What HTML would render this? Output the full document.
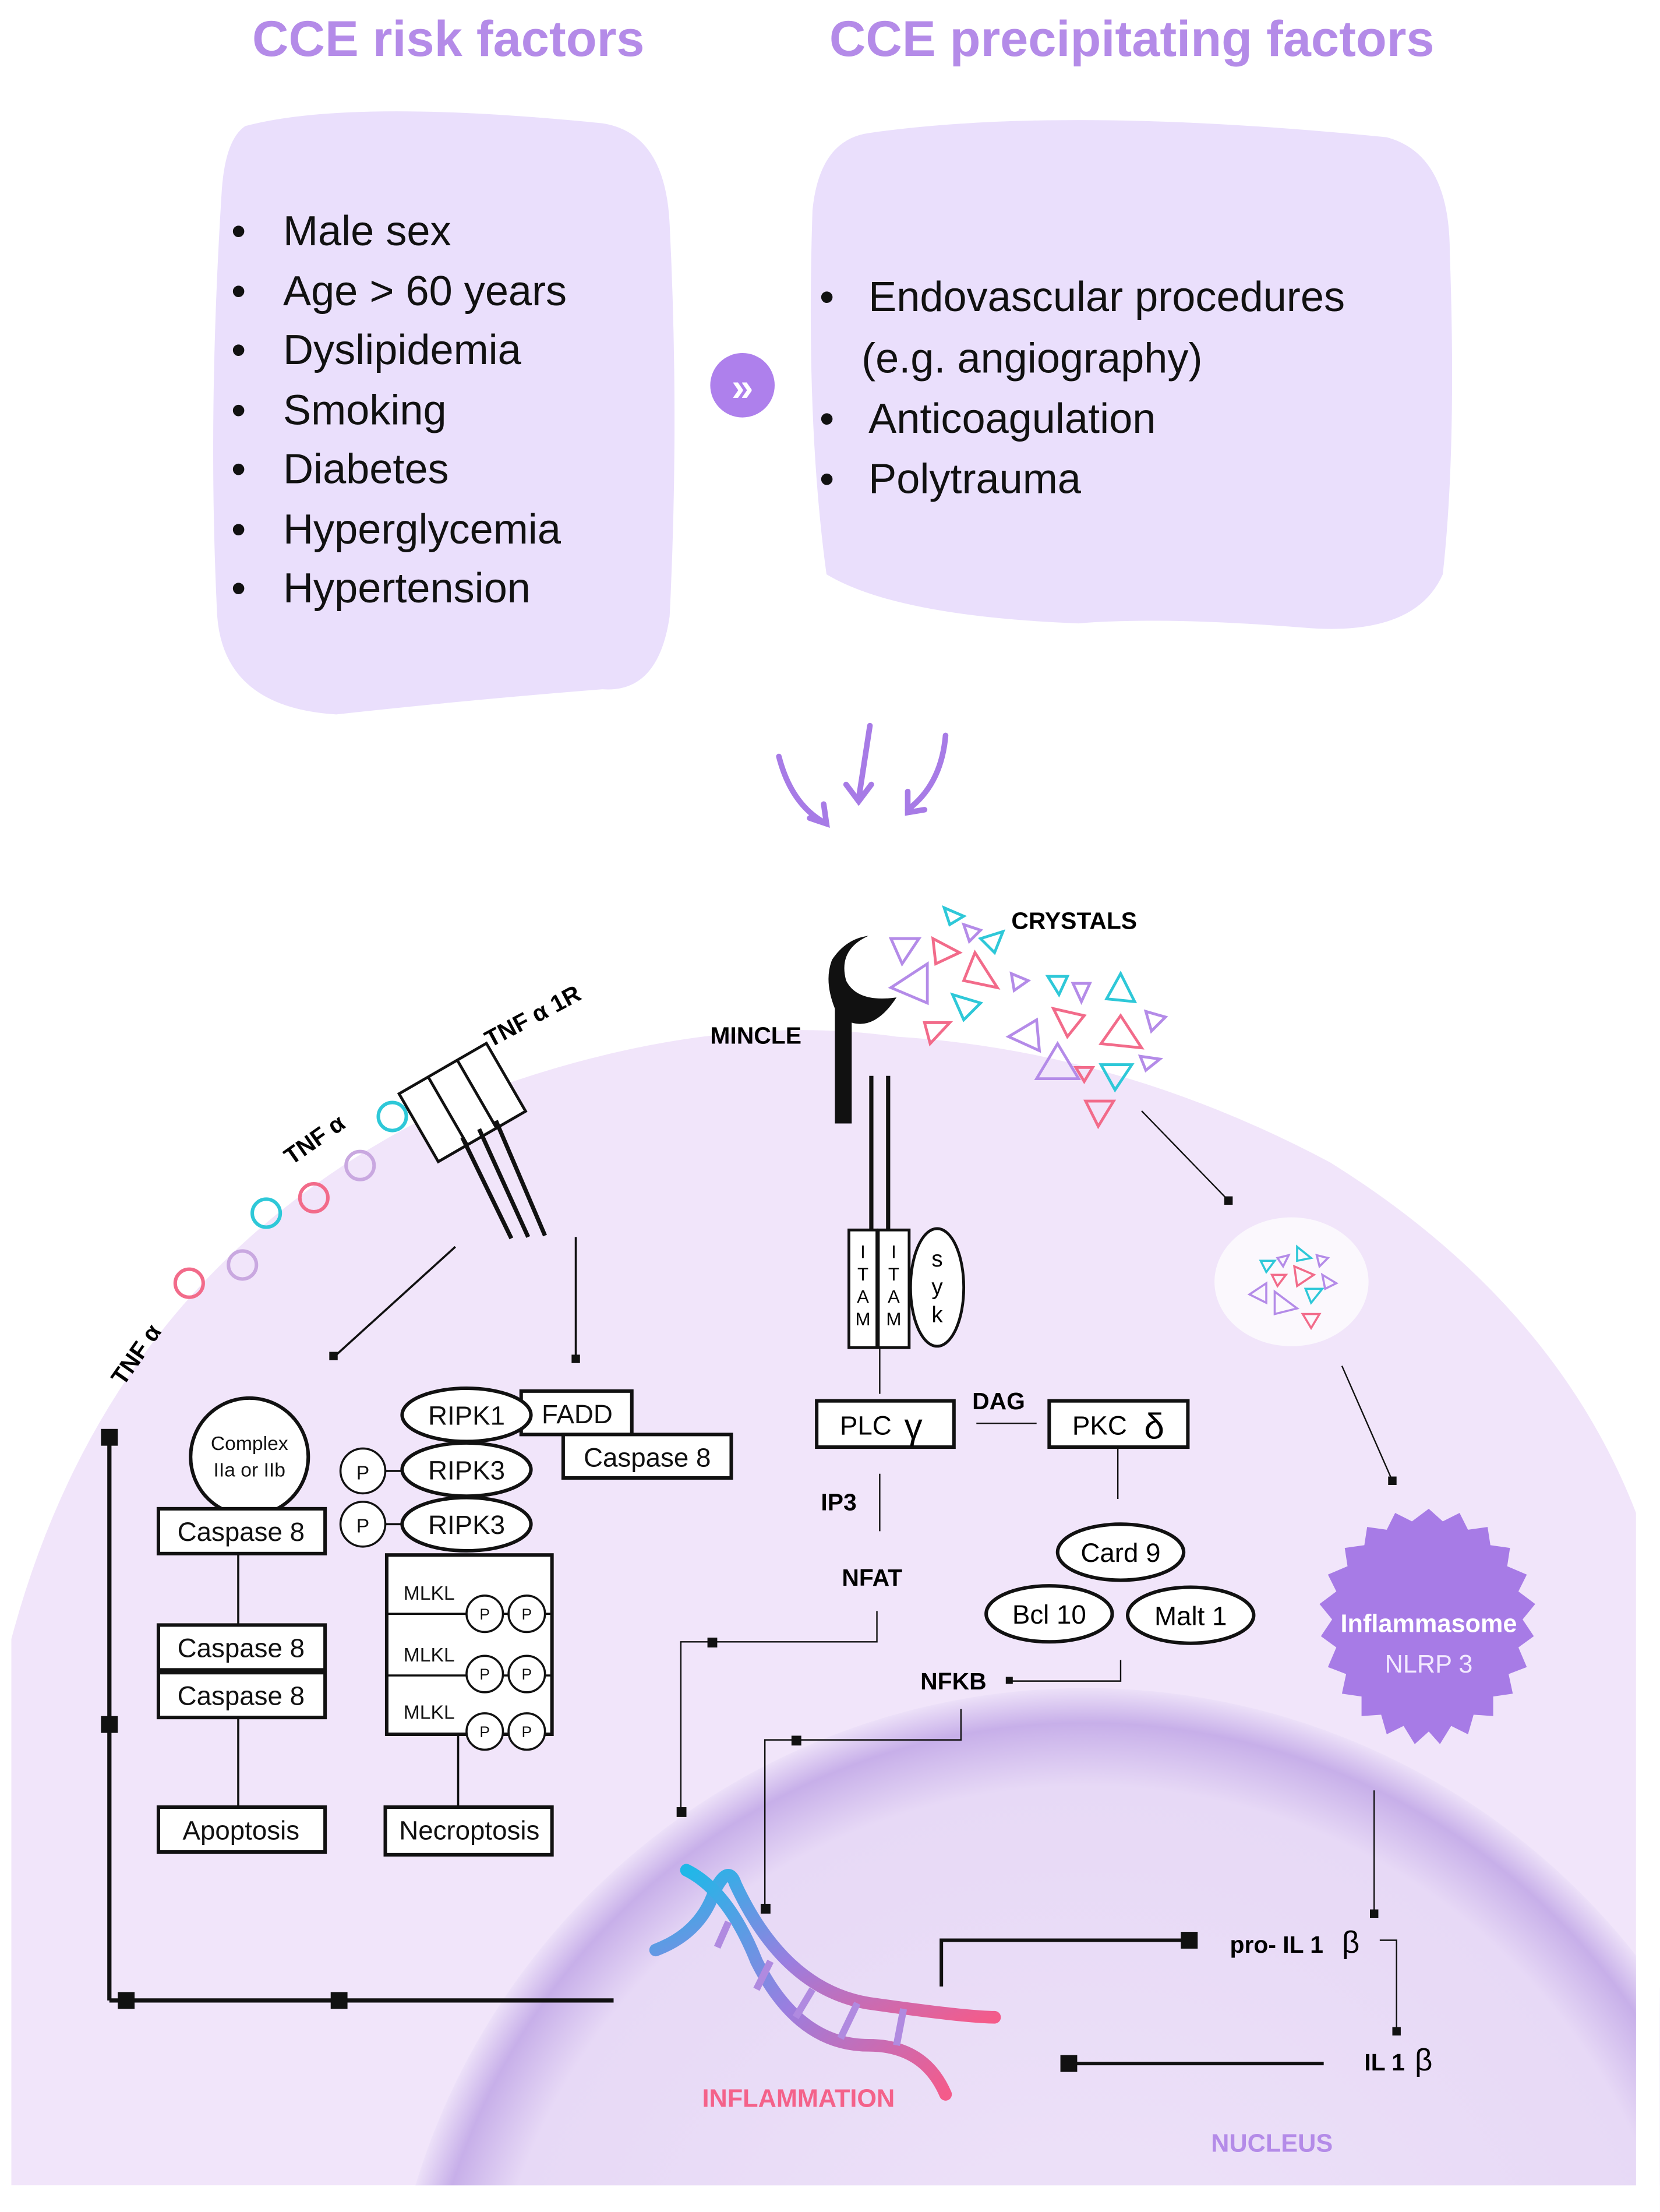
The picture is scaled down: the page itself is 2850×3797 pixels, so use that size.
<!DOCTYPE html>
<html><head><meta charset="utf-8"><style>
html,body{margin:0;padding:0;background:#fff;overflow:hidden;width:2850px;height:3797px;}
svg{display:block;}
text{font-family:"Liberation Sans",sans-serif;}
</style></head><body>
<svg width="2850" height="3797" viewBox="0 0 1185 1579" xmlns="http://www.w3.org/2000/svg">
<defs>
<radialGradient id="nuc" cx="0.5" cy="0.5" r="0.5">
<stop offset="0" stop-color="#efe4f9"/><stop offset="0.86" stop-color="#e7d9f6"/><stop offset="0.95" stop-color="#c7afe9"/><stop offset="1" stop-color="#ece0f8"/>
</radialGradient>
<linearGradient id="dna" x1="0" y1="0" x2="1" y2="1">
<stop offset="0" stop-color="#1fb8e8"/><stop offset="0.5" stop-color="#9a7ee0"/><stop offset="1" stop-color="#f45b8a"/>
</linearGradient>
</defs>
<text x="320" y="40" font-size="36" font-weight="bold" fill="#b48be8" text-anchor="middle">CCE risk factors</text>
<text x="808" y="40" font-size="36" font-weight="bold" fill="#b48be8" text-anchor="middle">CCE precipitating factors</text>
<path d="M175 90 Q250 70 430 88 Q475 95 478 160 Q485 300 478 440 Q470 495 430 492 Q330 500 240 510 Q160 505 155 440 Q148 300 158 140 Q160 100 175 90Z" fill="#eadffc"/>
<path d="M620 95 Q760 75 990 98 Q1035 110 1035 180 Q1040 320 1030 410 Q1010 455 930 448 Q830 440 770 445 Q640 440 590 410 Q575 300 580 150 Q585 100 620 95Z" fill="#eadffc"/>
<g font-size="30" fill="#111">
<text x="165" y="175">•</text><text x="202" y="175">Male sex</text>
<text x="165" y="218">•</text><text x="202" y="218">Age &gt; 60 years</text>
<text x="165" y="260">•</text><text x="202" y="260">Dyslipidemia</text>
<text x="165" y="303">•</text><text x="202" y="303">Smoking</text>
<text x="165" y="345">•</text><text x="202" y="345">Diabetes</text>
<text x="165" y="388">•</text><text x="202" y="388">Hyperglycemia</text>
<text x="165" y="430">•</text><text x="202" y="430">Hypertension</text>
<text x="585" y="222">•</text><text x="620" y="222">Endovascular procedures</text>
<text x="615" y="266">(e.g. angiography)</text>
<text x="585" y="309">•</text><text x="620" y="309">Anticoagulation</text>
<text x="585" y="352">•</text><text x="620" y="352">Polytrauma</text>
</g>
<circle cx="530" cy="275" r="23" fill="#ae80ec"/>
<text x="530" y="286" font-size="28" font-weight="bold" fill="#fff" text-anchor="middle">»</text>
<g stroke="#a77be6" stroke-width="4" fill="none" stroke-linecap="round">
<path d="M556 540 Q565 575 590 588"/><path d="M578 584 L590 588 L588 574"/>
<path d="M621 518 Q616 550 613 570"/><path d="M604 560 L613 572 L622 560"/>
<path d="M675 525 Q672 560 648 578"/><path d="M648 565 L648 580 L660 578"/>
</g>
<path d="M8 1170 Q80 900 330 785 Q500 720 640 740 Q800 750 950 830 Q1110 930 1168 1080 L1168 1560 L8 1560Z" fill="#f1e5fa"/>
<circle cx="775" cy="1705" r="500" fill="url(#nuc)"/>
<rect x="0" y="1560" width="1185" height="19" fill="#fff"/>
<rect x="1168" y="1000" width="17" height="579" fill="#fff"/>
<text transform="translate(88,990) rotate(-55)" font-size="17" font-weight="bold">TNF α</text>
<text transform="translate(208,832) rotate(-35)" font-size="17" font-weight="bold">TNF α</text>
<text transform="translate(350,748) rotate(-28)" font-size="17" font-weight="bold">TNF α 1R</text>
<g fill="none" stroke-width="2.5">
<circle cx="135" cy="916" r="10" stroke="#f26b8a"/><circle cx="173" cy="903" r="10" stroke="#c9a8e0"/>
<circle cx="190" cy="866" r="10" stroke="#2ec8d8"/><circle cx="224" cy="855" r="10" stroke="#f26b8a"/>
<circle cx="257" cy="832" r="10" stroke="#c9a8e0"/><circle cx="280" cy="797" r="10" stroke="#2ec8d8"/>
</g>
<g transform="translate(330,787) rotate(-30)" stroke="#111" stroke-width="2" fill="#fff">
<rect x="-36" y="-28" width="72" height="56"/><line x1="-12" y1="-28" x2="-12" y2="28"/><line x1="12" y1="-28" x2="12" y2="28"/>
</g>
<g stroke="#111" stroke-width="3"><line x1="330" y1="812" x2="365" y2="884"/><line x1="342" y1="806" x2="377" y2="883"/><line x1="354" y1="800" x2="389" y2="882"/></g>
<g stroke="#111" stroke-width="1.5"><line x1="325" y1="890" x2="239" y2="968"/><line x1="411" y1="883" x2="411" y2="970"/></g>
<rect x="235" y="965" width="6" height="6" fill="#111"/><rect x="408" y="967" width="6" height="6" fill="#111"/>
<g stroke="#111" stroke-width="2.5" fill="#fff">
<circle cx="178" cy="1040" r="42"/>
<rect x="113" y="1077" width="119" height="32"/>
<rect x="113" y="1160" width="119" height="32"/><rect x="113" y="1194" width="119" height="32"/>
<rect x="113" y="1290" width="119" height="32"/>
<rect x="276" y="1110" width="118" height="128"/>
<rect x="275" y="1290" width="119" height="34"/>
<rect x="372" y="993" width="79" height="31"/>
<rect x="402" y="1024" width="120" height="31"/>
<ellipse cx="333" cy="1010" rx="46" ry="19"/>
<ellipse cx="333" cy="1049" rx="46" ry="19"/>
<ellipse cx="333" cy="1088" rx="46" ry="19"/>
</g>
<g stroke="#111" stroke-width="1.5" fill="#fff">
<line x1="276" y1="1152" x2="394" y2="1152"/><line x1="276" y1="1196" x2="394" y2="1196"/>
<line x1="170" y1="1109" x2="170" y2="1160"/><line x1="170" y1="1226" x2="170" y2="1290"/><line x1="327" y1="1238" x2="327" y2="1290"/>
<line x1="275" y1="1050" x2="287" y2="1050"/><line x1="275" y1="1088" x2="287" y2="1088"/>
<circle cx="259" cy="1050" r="16"/><circle cx="259" cy="1088" r="16"/>
<circle cx="346" cy="1152" r="13"/><circle cx="376" cy="1152" r="13"/>
<circle cx="346" cy="1195" r="13"/><circle cx="376" cy="1195" r="13"/>
<circle cx="346" cy="1236" r="13"/><circle cx="376" cy="1236" r="13"/>
</g>
<g font-size="19" text-anchor="middle" fill="#111">
<text x="178" y="1035" font-size="14">Complex</text><text x="178" y="1054" font-size="14">IIa or IIb</text>
<text x="172" y="1100">Caspase 8</text><text x="172" y="1183">Caspase 8</text><text x="172" y="1217">Caspase 8</text>
<text x="172" y="1313">Apoptosis</text><text x="335" y="1313">Necroptosis</text>
<text x="412" y="1016">FADD</text><text x="462" y="1047">Caspase 8</text>
<text x="333" y="1017">RIPK1</text><text x="333" y="1056">RIPK3</text><text x="333" y="1095">RIPK3</text>
<text x="259" y="1056" font-size="14">P</text><text x="259" y="1094" font-size="14">P</text>
<g font-size="14" text-anchor="start"><text x="288" y="1142">MLKL</text><text x="288" y="1186">MLKL</text><text x="288" y="1227">MLKL</text></g>
<g font-size="11"><text x="346" y="1156">P</text><text x="376" y="1156">P</text><text x="346" y="1199">P</text><text x="376" y="1199">P</text><text x="346" y="1240">P</text><text x="376" y="1240">P</text></g>
</g>
<g stroke="#111" stroke-width="3"><line x1="78" y1="1025" x2="78" y2="1428"/><line x1="78" y1="1428" x2="438" y2="1428"/></g>
<g fill="#111"><rect x="72" y="1020" width="12" height="12"/><rect x="72" y="1225" width="12" height="12"/><rect x="84" y="1422" width="12" height="12"/><rect x="236" y="1422" width="12" height="12"/></g>
<text x="507" y="745" font-size="17" font-weight="bold">MINCLE</text>
<path d="M596 802 L596 720 Q588 700 594 685 Q604 670 620 668 Q598 678 604 700 Q612 716 640 712 Q625 735 608 730 L608 802Z" fill="#111"/>
<g stroke="#111" stroke-width="3"><line x1="622" y1="768" x2="622" y2="878"/><line x1="634" y1="768" x2="634" y2="878"/></g>
<g stroke="#111" stroke-width="2" fill="#fff"><rect x="606" y="878" width="20" height="84"/><rect x="627" y="878" width="22" height="84"/><ellipse cx="669" cy="919" rx="19" ry="42"/></g>
<g font-size="13" text-anchor="middle"><text x="616" y="898">I</text><text x="616" y="914">T</text><text x="616" y="930">A</text><text x="616" y="946">M</text>
<text x="638" y="898">I</text><text x="638" y="914">T</text><text x="638" y="930">A</text><text x="638" y="946">M</text>
<text x="669" y="904" font-size="16">s</text><text x="669" y="924" font-size="16">y</text><text x="669" y="944" font-size="16">k</text></g>
<g stroke="#111" stroke-width="2.5" fill="#fff"><rect x="583" y="1000" width="98" height="33"/><rect x="749" y="1000" width="99" height="33"/>
<ellipse cx="800" cy="1108" rx="45" ry="20"/><ellipse cx="749" cy="1152" rx="45" ry="20"/><ellipse cx="850" cy="1153" rx="45" ry="20"/></g>
<g font-size="19" text-anchor="middle"><text x="618" y="1024">PLC</text><text x="652" y="1027" font-size="26">γ</text>
<text x="785" y="1024">PKC</text><text x="824" y="1027" font-size="26">δ</text>
<text x="800" y="1115">Card 9</text><text x="749" y="1159">Bcl 10</text><text x="850" y="1160">Malt 1</text></g>
<g font-size="17" font-weight="bold"><text x="694" y="1006">DAG</text><text x="586" y="1078">IP3</text><text x="601" y="1132">NFAT</text><text x="657" y="1206">NFKB</text>
<text x="722" y="663">CRYSTALS</text><text x="878" y="1394">pro- IL 1</text><text x="974" y="1478">IL 1</text></g>
<g font-size="22"><text x="958" y="1394">β</text><text x="1010" y="1478">β</text></g>
<g stroke="#111" stroke-width="1" fill="none"><line x1="628" y1="962" x2="628" y2="995"/><line x1="697" y1="1016" x2="740" y2="1016"/><line x1="798" y1="1033" x2="798" y2="1070"/><line x1="628" y1="1052" x2="628" y2="1093"/>
<polyline points="626,1150 626,1172 486,1172 486,1293"/><polyline points="800,1185 800,1200 722,1200"/><polyline points="686,1220 686,1242 546,1242 546,1362"/>
<polyline points="985,1385 997,1385 997,1450"/><line x1="981" y1="1278" x2="981" y2="1365"/>
<line x1="815" y1="793" x2="877" y2="857"/><line x1="958" y1="975" x2="994" y2="1057"/></g>
<g stroke="#111" stroke-width="2.5" fill="none"><polyline points="672,1418 672,1385 845,1385"/><line x1="765" y1="1473" x2="945" y2="1473"/></g>
<g fill="#111"><rect x="505" y="1169" width="7" height="7"/><rect x="483" y="1290" width="7" height="7"/><rect x="565" y="1239" width="7" height="7"/><rect x="543" y="1359" width="7" height="7"/>
<rect x="718" y="1197" width="5" height="5"/><rect x="978" y="1363" width="6" height="6"/><rect x="994" y="1447" width="6" height="6"/>
<rect x="843" y="1379" width="12" height="12"/><rect x="757" y="1467" width="12" height="12"/><rect x="874" y="854" width="6" height="6"/><rect x="991" y="1054" width="6" height="6"/></g>
<g fill="none" stroke-width="2">
<path d="M636 670 L656 670 L644 688Z" stroke="#b48be8"/><path d="M666 670 L685 680 L668 688Z" stroke="#f26b8a"/><path d="M674 648 L688 654 L678 660Z" stroke="#2ec8d8"/>
<path d="M688 660 L700 664 L692 672Z" stroke="#b48be8"/><path d="M696 680 L712 705 L688 700Z" stroke="#f26b8a"/><path d="M636 705 L662 688 L662 716Z" stroke="#b48be8"/>
<path d="M680 710 L700 716 L688 728Z" stroke="#2ec8d8"/><path d="M700 670 L716 665 L710 680Z" stroke="#2ec8d8"/><path d="M660 730 L678 730 L664 745Z" stroke="#f26b8a"/>
<path d="M722 695 L734 700 L724 707Z" stroke="#b48be8"/><path d="M748 697 L762 697 L756 710Z" stroke="#2ec8d8"/><path d="M766 702 L778 702 L772 715Z" stroke="#b48be8"/>
<path d="M790 713 L800 695 L810 715Z" stroke="#2ec8d8"/><path d="M720 740 L740 728 L742 750Z" stroke="#b48be8"/><path d="M752 720 L774 725 L762 740Z" stroke="#f26b8a"/>
<path d="M786 745 L800 725 L815 748Z" stroke="#f26b8a"/><path d="M818 722 L832 726 L822 736Z" stroke="#b48be8"/><path d="M740 770 L755 745 L770 770Z" stroke="#b48be8"/>
<path d="M768 762 L780 762 L774 772Z" stroke="#f26b8a"/><path d="M786 760 L808 760 L796 778Z" stroke="#2ec8d8"/><path d="M814 754 L828 756 L818 764Z" stroke="#b48be8"/>
<path d="M775 786 L795 786 L784 804Z" stroke="#f26b8a"/>
</g>
<ellipse cx="922" cy="915" rx="55" ry="46" fill="#fbf8fd"/>
<g fill="none" stroke-width="1.5">
<path d="M900 900 L910 900 L904 908Z" stroke="#2ec8d8"/><path d="M912 898 L920 896 L916 904Z" stroke="#b48be8"/><path d="M926 890 L936 898 L926 900Z" stroke="#2ec8d8"/>
<path d="M940 896 L948 898 L942 904Z" stroke="#b48be8"/><path d="M908 910 L918 910 L912 918Z" stroke="#f26b8a"/><path d="M924 904 L938 910 L926 918Z" stroke="#f26b8a"/>
<path d="M892 924 L904 916 L904 930Z" stroke="#b48be8"/><path d="M910 922 L926 934 L910 938Z" stroke="#b48be8"/><path d="M932 920 L944 920 L936 930Z" stroke="#2ec8d8"/>
<path d="M944 910 L954 916 L946 920Z" stroke="#b48be8"/><path d="M930 938 L942 938 L936 948Z" stroke="#f26b8a"/>
</g>
<polygon fill="#a77be6" points="1020,1077 1030,1086 1042,1080 1048,1092 1062,1090 1064,1103 1078,1105 1076,1118 1090,1124 1084,1136 1096,1145 1087,1156 1095,1168 1084,1176 1090,1190 1077,1195 1080,1209 1066,1211 1066,1225 1052,1224 1048,1238 1036,1232 1028,1245 1020,1236 1010,1245 1002,1232 990,1238 986,1224 972,1225 972,1211 958,1209 961,1195 948,1190 954,1176 943,1168 951,1156 942,1145 954,1136 948,1124 962,1118 960,1105 974,1103 976,1090 990,1092 996,1080 1008,1086"/>
<text x="1020" y="1165" font-size="18" font-weight="bold" fill="#fff" text-anchor="middle">Inflammasome</text>
<text x="1020" y="1194" font-size="18" fill="#f3eaff" text-anchor="middle">NLRP 3</text>
<g fill="none" stroke="url(#dna)" stroke-width="9" stroke-linecap="round">
<path d="M468 1392 Q500 1380 510 1350 Q520 1330 525 1345 Q560 1420 620 1430 Q690 1440 710 1440"/>
<path d="M490 1335 Q520 1350 540 1400 Q570 1460 620 1460 Q660 1460 675 1495"/>
</g>
<g stroke="#b08ae0" stroke-width="5"><line x1="520" y1="1372" x2="512" y2="1390"/><line x1="550" y1="1400" x2="540" y2="1420"/><line x1="580" y1="1420" x2="568" y2="1440"/><line x1="612" y1="1430" x2="600" y2="1455"/><line x1="645" y1="1434" x2="640" y2="1460"/></g>
<text x="570" y="1504" font-size="18" font-weight="bold" fill="#f4628a" text-anchor="middle">INFLAMMATION</text>
<text x="908" y="1536" font-size="18" font-weight="bold" fill="#b48be8" text-anchor="middle">NUCLEUS</text>
</svg>
</body></html>
